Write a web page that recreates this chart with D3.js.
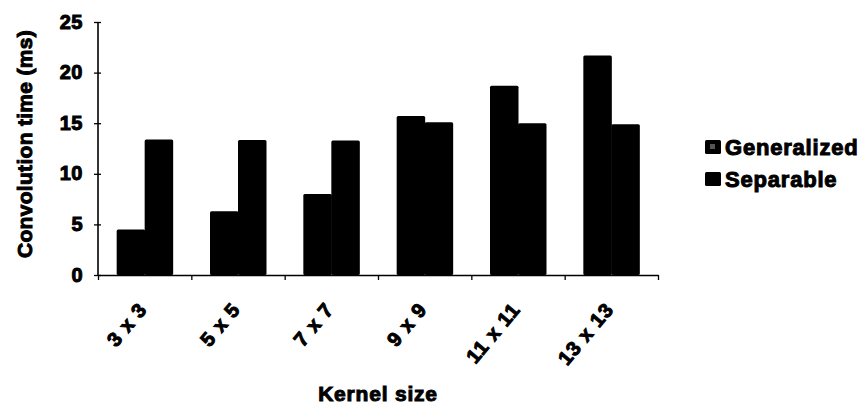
<!DOCTYPE html>
<html>
<head>
<meta charset="utf-8">
<script src="https://cdn.jsdelivr.net/npm/d3@7"></script>
<style>
  body { margin: 0; background: #fff; }
  svg text { font-family: 'Liberation Sans', Arial, sans-serif; font-weight: bold; fill: #000; stroke: #000; stroke-width: 1px; }
</style>
</head>
<body>
<svg id="chart" width="860" height="405"></svg>
<script>
'use strict';

const categories = ['3 x 3', '5 x 5', '7 x 7', '9 x 9', '11 x 11', '13 x 13'];
const seriesNames = ['Generalized', 'Separable'];
const generalized = [4.5, 6.3, 8.0, 15.7, 18.7, 21.7];
const separable = [13.4, 13.35, 13.3, 15.1, 15.0, 14.9];
const yTicks = [0, 5, 10, 15, 20, 25];

const svg = d3.select('#chart');
const plotLeft = 98, plotRight = 658, plotTop = 22, plotBottom = 275;

const x = d3.scaleBand().domain(categories).range([plotLeft, plotRight]).padding(0);
const y = d3.scaleLinear().domain([0, 25]).range([plotBottom, plotTop]);

// inner group takes 60% of the band, centred
const groupW = x.bandwidth() * 0.6;
const xInner = d3.scaleBand().domain(seriesNames)
    .range([(x.bandwidth() - groupW) / 2, (x.bandwidth() + groupW) / 2]).padding(0);

const rows = categories.map((c, i) => ({ cat: c, vals: [generalized[i], separable[i]] }));

// bars
const groups = svg.append('g').selectAll('g').data(rows).enter().append('g')
    .attr('transform', d => 'translate(' + x(d.cat) + ',0)');
groups.selectAll('rect').data(d => d.vals.map((v, j) => ({ s: seriesNames[j], v: v }))).enter().append('rect')
    .attr('x', d => xInner(d.s))
    .attr('y', d => y(d.v))
    .attr('width', xInner.bandwidth() + 0.5)
    .attr('height', d => plotBottom - y(d.v))
    .attr('rx', 1.5)
    .style('fill', '#000');

// y axis
const yAxis = svg.append('g').attr('transform', 'translate(' + plotLeft + ',0)')
    .call(d3.axisLeft(y).tickValues(yTicks).tickSize(3).tickPadding(12));
yAxis.select('.domain').attr('stroke', '#000').attr('stroke-width', 1.6).attr('d', 'M0,' + plotTop + 'V' + plotBottom);
yAxis.selectAll('.tick line').attr('x1', -4).attr('x2', 3).attr('stroke-width', 1.3);
yAxis.selectAll('.tick text').attr('dy', '0.3em').style('font-size', '20px').style('letter-spacing', '0.5px');

// x axis: boundary ticks
const xEdge = d3.scaleLinear().domain([0, categories.length]).range([plotLeft, plotRight]);
const xAxisEdge = svg.append('g').attr('transform', 'translate(0,' + plotBottom + ')')
    .call(d3.axisBottom(xEdge).tickValues(d3.range(categories.length + 1)).tickSize(5).tickSizeOuter(0).tickFormat(''));
xAxisEdge.select('.domain').attr('stroke', '#000').attr('stroke-width', 1.6);
xAxisEdge.selectAll('.tick line').attr('stroke-width', 1.3);

// x axis: category labels
const xAxis = svg.append('g').attr('transform', 'translate(0,' + plotBottom + ')')
    .call(d3.axisBottom(x).tickSize(0));
xAxis.select('.domain').remove();
xAxis.selectAll('.tick text')
    .attr('text-anchor', 'end')
    .attr('x', 0).attr('y', 0).attr('dy', '0.35em')
    .attr('transform', 'translate(-2,30.5) rotate(-50)')
    .style('font-size', '20px').style('letter-spacing', '1px');

// axis titles
svg.append('text')
    .attr('transform', 'translate(32,144) rotate(-90)')
    .attr('text-anchor', 'middle')
    .style('font-size', '21px').style('letter-spacing', '0.3px')
    .text('Convolution time (ms)');

svg.append('text')
    .attr('x', (plotLeft + plotRight) / 2).attr('y', 401)
    .attr('text-anchor', 'middle')
    .style('font-size', '21px').style('letter-spacing', '0.8px')
    .text('Kernel size');

// legend
const legend = svg.append('g').selectAll('g').data(seriesNames).enter().append('g')
    .attr('transform', (d, i) => 'translate(705,' + (140 + i * 32) + ')');
legend.append('rect').attr('width', 16).attr('height', 14).attr('rx', 1.5).style('fill', '#000');
legend.filter((d, i) => i === 0).append('rect')
    .attr('x', 5).attr('y', 4).attr('width', 5).attr('height', 5).style('fill', '#555');
legend.append('text')
    .attr('x', 20).attr('y', 7).attr('dy', '0.36em')
    .style('font-size', '22px').style('letter-spacing', '0.8px')
    .text(d => d);
</script>
</body>
</html>
